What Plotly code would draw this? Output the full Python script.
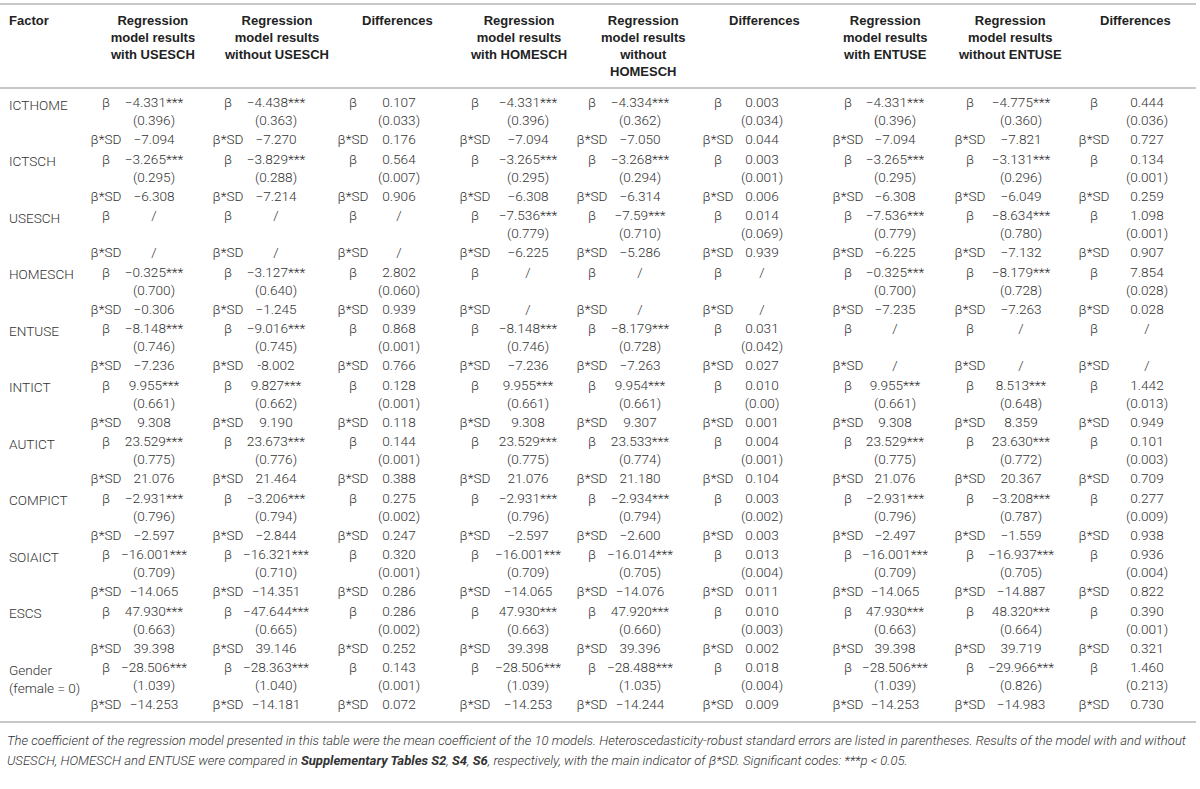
import plotly.graph_objects as go

# ---------------- data ----------------
factors = ["ICTHOME", "ICTSCH", "USESCH", "HOMESCH", "ENTUSE", "INTICT", "AUTICT",
           "COMPICT", "SOIAICT", "ESCS", "Gender<br>(female = 0)"]

headers = ["Regression<br>model results<br>with USESCH",
           "Regression<br>model results<br>without USESCH",
           "Differences",
           "Regression<br>model results<br>with HOMESCH",
           "Regression<br>model results<br>without<br>HOMESCH",
           "Differences",
           "Regression<br>model results<br>with ENTUSE",
           "Regression<br>model results<br>without ENTUSE",
           "Differences"]

row_labels = ["β", "β*SD"]

with_usesch_beta = ["−4.331***", "−3.265***", "/", "−0.325***", "−8.148***", "9.955***", "23.529***", "−2.931***", "−16.001***", "47.930***", "−28.506***"]
with_usesch_se = ["(0.396)", "(0.295)", "", "(0.700)", "(0.746)", "(0.661)", "(0.775)", "(0.796)", "(0.709)", "(0.663)", "(1.039)"]
with_usesch_bsd = ["−7.094", "−6.308", "/", "−0.306", "−7.236", "9.308", "21.076", "−2.597", "−14.065", "39.398", "−14.253"]

without_usesch_beta = ["−4.438***", "−3.829***", "/", "−3.127***", "−9.016***", "9.827***", "23.673***", "−3.206***", "−16.321***", "−47.644***", "−28.363***"]
without_usesch_se = ["(0.363)", "(0.288)", "", "(0.640)", "(0.745)", "(0.662)", "(0.776)", "(0.794)", "(0.710)", "(0.665)", "(1.040)"]
without_usesch_bsd = ["−7.270", "−7.214", "/", "−1.245", "-8.002", "9.190", "21.464", "−2.844", "−14.351", "39.146", "−14.181"]

diff_usesch_beta = ["0.107", "0.564", "/", "2.802", "0.868", "0.128", "0.144", "0.275", "0.320", "0.286", "0.143"]
diff_usesch_se = ["(0.033)", "(0.007)", "", "(0.060)", "(0.001)", "(0.001)", "(0.001)", "(0.002)", "(0.001)", "(0.002)", "(0.001)"]
diff_usesch_bsd = ["0.176", "0.906", "/", "0.939", "0.766", "0.118", "0.388", "0.247", "0.286", "0.252", "0.072"]

with_homesch_beta = ["−4.331***", "−3.265***", "−7.536***", "/", "−8.148***", "9.955***", "23.529***", "−2.931***", "−16.001***", "47.930***", "−28.506***"]
with_homesch_se = ["(0.396)", "(0.295)", "(0.779)", "", "(0.746)", "(0.661)", "(0.775)", "(0.796)", "(0.709)", "(0.663)", "(1.039)"]
with_homesch_bsd = ["−7.094", "−6.308", "−6.225", "/", "−7.236", "9.308", "21.076", "−2.597", "−14.065", "39.398", "−14.253"]

without_homesch_beta = ["−4.334***", "−3.268***", "−7.59***", "/", "−8.179***", "9.954***", "23.533***", "−2.934***", "−16.014***", "47.920***", "−28.488***"]
without_homesch_se = ["(0.362)", "(0.294)", "(0.710)", "", "(0.728)", "(0.661)", "(0.774)", "(0.794)", "(0.705)", "(0.660)", "(1.035)"]
without_homesch_bsd = ["−7.050", "−6.314", "−5.286", "/", "−7.263", "9.307", "21.180", "−2.600", "−14.076", "39.396", "−14.244"]

diff_homesch_beta = ["0.003", "0.003", "0.014", "/", "0.031", "0.010", "0.004", "0.003", "0.013", "0.010", "0.018"]
diff_homesch_se = ["(0.034)", "(0.001)", "(0.069)", "", "(0.042)", "(0.00)", "(0.001)", "(0.002)", "(0.004)", "(0.003)", "(0.004)"]
diff_homesch_bsd = ["0.044", "0.006", "0.939", "/", "0.027", "0.001", "0.104", "0.003", "0.011", "0.002", "0.009"]

with_entuse_beta = ["−4.331***", "−3.265***", "−7.536***", "−0.325***", "/", "9.955***", "23.529***", "−2.931***", "−16.001***", "47.930***", "−28.506***"]
with_entuse_se = ["(0.396)", "(0.295)", "(0.779)", "(0.700)", "", "(0.661)", "(0.775)", "(0.796)", "(0.709)", "(0.663)", "(1.039)"]
with_entuse_bsd = ["−7.094", "−6.308", "−6.225", "−7.235", "/", "9.308", "21.076", "−2.497", "−14.065", "39.398", "−14.253"]

without_entuse_beta = ["−4.775***", "−3.131***", "−8.634***", "−8.179***", "/", "8.513***", "23.630***", "−3.208***", "−16.937***", "48.320***", "−29.966***"]
without_entuse_se = ["(0.360)", "(0.296)", "(0.780)", "(0.728)", "", "(0.648)", "(0.772)", "(0.787)", "(0.705)", "(0.664)", "(0.826)"]
without_entuse_bsd = ["−7.821", "−6.049", "−7.132", "−7.263", "/", "8.359", "20.367", "−1.559", "−14.887", "39.719", "−14.983"]

diff_entuse_beta = ["0.444", "0.134", "1.098", "7.854", "/", "1.442", "0.101", "0.277", "0.936", "0.390", "1.460"]
diff_entuse_se = ["(0.036)", "(0.001)", "(0.001)", "(0.028)", "", "(0.013)", "(0.003)", "(0.009)", "(0.004)", "(0.001)", "(0.213)"]
diff_entuse_bsd = ["0.727", "0.259", "0.907", "0.028", "/", "0.949", "0.709", "0.938", "0.822", "0.321", "0.730"]

footnote_lines = [
    "The coefficient of the regression model presented in this table were the mean coefficient of the 10 models. "
    "Heteroscedasticity-robust standard errors are listed in parentheses. Results of the model with and without",
    "USESCH, HOMESCH and ENTUSE were compared in <b>Supplementary Tables S2</b>, <b>S4</b>, <b>S6</b>, "
    "respectively, with the main indicator of β*SD. Significant codes: ***p &lt; 0.05.",
]

columns = [
    (with_usesch_beta, with_usesch_se, with_usesch_bsd),
    (without_usesch_beta, without_usesch_se, without_usesch_bsd),
    (diff_usesch_beta, diff_usesch_se, diff_usesch_bsd),
    (with_homesch_beta, with_homesch_se, with_homesch_bsd),
    (without_homesch_beta, without_homesch_se, without_homesch_bsd),
    (diff_homesch_beta, diff_homesch_se, diff_homesch_bsd),
    (with_entuse_beta, with_entuse_se, with_entuse_bsd),
    (without_entuse_beta, without_entuse_se, without_entuse_bsd),
    (diff_entuse_beta, diff_entuse_se, diff_entuse_bsd),
]

# ---------------- layout constants ----------------
W, H = 1200, 789
LABEL_X = [106, 228, 353, 475, 592, 718, 848, 970, 1094]
VALUE_X = [154, 276, 399, 528, 640, 762, 895, 1021, 1147]
HEAD_X = [152, 276, 397, 518, 643, 764, 885, 1010, 1135]
HEAD_TOP = 11
HEAD_RULE = 88
Y0 = 104      # first beta row (centre)
BLOCK = 56.5  # height of one factor block
SE_DY = 18
BSD_DY = 37
BODY_FONT = dict(family="Roboto, Liberation Sans, sans-serif", size=13.6, color="#333333", weight=300)
HEAD_FONT = dict(family="Liberation Sans", size=13, color="#222222")
NOTE_FONT = dict(family="Roboto, Liberation Sans, sans-serif", size=13.1, color="#333333", weight=300)

fig = go.Figure()

beta_y = [Y0 + i * BLOCK for i in range(len(factors))]

for j, (b, se, bsd) in enumerate(columns):
    lx, ly, lt = [], [], []
    for y in beta_y:
        lx += [LABEL_X[j], LABEL_X[j]]
        ly += [y, y + BSD_DY]
        lt += row_labels
    fig.add_trace(go.Scatter(x=lx, y=ly, text=lt, mode="text", textposition="middle center",
                             textfont=BODY_FONT, hoverinfo="skip", showlegend=False))
    vx, vy, vt = [], [], []
    for i, y in enumerate(beta_y):
        vx += [VALUE_X[j], VALUE_X[j], VALUE_X[j]]
        vy += [y, y + SE_DY, y + BSD_DY]
        vt += [b[i], se[i], bsd[i]]
    fig.add_trace(go.Scatter(x=vx, y=vy, text=vt, mode="text", textposition="middle center",
                             textfont=BODY_FONT, hoverinfo="skip", showlegend=False))

annotations = []
annotations.append(dict(x=7, y=HEAD_TOP, text="<b>Factor</b>", xanchor="left", yanchor="top",
                        showarrow=False, font=HEAD_FONT))
for j, h in enumerate(headers):
    annotations.append(dict(x=HEAD_X[j], y=HEAD_TOP, text="<b>" + h.replace("<br>", "</b><br><b>") + "</b>",
                            xanchor="center", yanchor="top", align="center", showarrow=False,
                            font=HEAD_FONT))
for i, f in enumerate(factors):
    annotations.append(dict(x=7, y=beta_y[i] - 9.5, text=f, xanchor="left", yanchor="top", align="left",
                            showarrow=False, font=BODY_FONT))

y_last = beta_y[-1] + BSD_DY
bottom_rule = y_last + 16
for k, line in enumerate(footnote_lines):
    annotations.append(dict(x=5, y=bottom_rule + 18 + 20 * k, text="<i>" + line + "</i>",
                            xanchor="left", yanchor="middle", align="left", showarrow=False,
                            font=NOTE_FONT))

line_style = dict(color="#c8c8c8", width=2)
shapes = [
    dict(type="line", xref="x", yref="y", x0=0, x1=1196, y0=4, y1=4, line=line_style),
    dict(type="line", xref="x", yref="y", x0=0, x1=1196, y0=HEAD_RULE, y1=HEAD_RULE, line=line_style),
    dict(type="line", xref="x", yref="y", x0=0, x1=1196, y0=bottom_rule, y1=bottom_rule, line=line_style),
]

fig.update_layout(
    width=W, height=H,
    margin=dict(l=0, r=0, t=0, b=0),
    paper_bgcolor="white", plot_bgcolor="white",
    xaxis=dict(range=[0, W], visible=False, fixedrange=True),
    yaxis=dict(range=[H, 0], visible=False, fixedrange=True),
    annotations=annotations,
    shapes=shapes,
    showlegend=False,
    hovermode=False,
)

# remove the browser's default 8px page margin so the figure fills the window exactly
fig.write_html("out.html",
               config={"displayModeBar": False, "staticPlot": True},
               post_script="document.body.style.margin='0';document.body.style.overflow='hidden';")
